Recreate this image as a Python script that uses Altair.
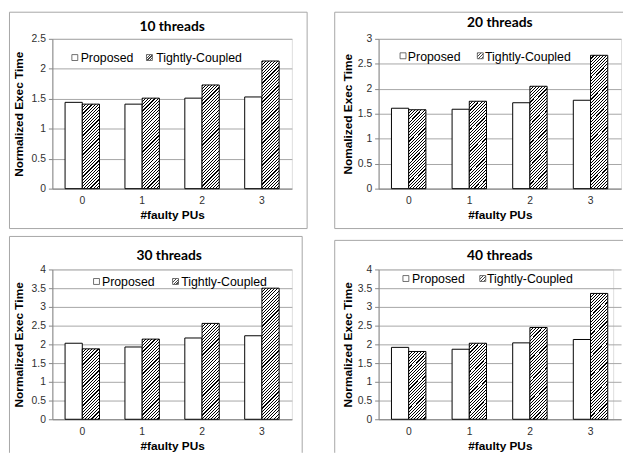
import altair as alt
import pandas as pd

# ---------------- data ----------------
categories = ["0", "1", "2", "3"]
series = ["Proposed", "Tightly-Coupled"]
titles = ["10 threads", "20 threads", "30 threads", "40 threads"]
y_titles = ["Normalized Exec Time", "Nomalized Exec Time",
            "Normalized Exec Time", "Normalized Exec Time"]
x_title = "#faulty PUs"
y_max = [2.5, 3.0, 4.0, 4.0]
y_ticks = [[0, 0.5, 1, 1.5, 2, 2.5],
           [0, 0.5, 1, 1.5, 2, 2.5, 3],
           [0, 0.5, 1, 1.5, 2, 2.5, 3, 3.5, 4],
           [0, 0.5, 1, 1.5, 2, 2.5, 3, 3.5, 4]]
proposed = [[1.44, 1.41, 1.51, 1.53],
            [1.61, 1.59, 1.72, 1.77],
            [2.03, 1.93, 2.17, 2.23],
            [1.92, 1.87, 2.04, 2.13]]
tightly = [[1.41, 1.51, 1.73, 2.13],
           [1.58, 1.75, 2.05, 2.67],
           [1.88, 2.14, 2.56, 3.50],
           [1.81, 2.03, 2.45, 3.36]]

# ---------------- layout / style ----------------
H = 152
plot_w = [243, 246, 243, 238]
band_w = [243, 246, 243, 246]
PAD_IN = 0.425
title_dy = [-11.5, -15.5, -13.5, -13.5]
title_dx = [121.5, 123, 118.5, 123]
ytitle_pad = [6, 3, 6, 3]
# (symbol1 x, y, text1 x, symbol2 x, text2 x) relative to plot area
legend_pos = [(22.8, 19.0, 28.7, 98.5, 105.3),
              (24.8, 17.2, 29.7, 103.2, 108.0),
              (44.8, 12.2, 50.3, 125.0, 130.7),
              (27.7, 9.2, 34.0, 105.7, 110.0)]
# border segments (x, x2, y, y2) relative to plot area
borders = [
    [(-43.5, 258.5, -27, -27), (-43.5, 258.5, 192.5, 192.5),
     (-43.5, -43.5, -27, 192.5), (258.5, 258.5, -27, 192.5)],
    [(-44.5, 248, -27, -27), (-44.5, 248, 192.5, 192.5),
     (-44.5, -44.5, -27, 192.5)],
    [(-43.5, 253.5, -33.5, -33.5), (-43.5, -43.5, -33.5, 186),
     (253.5, 253.5, -33.5, 186)],
    [(-44.5, 248, -29.5, -29.5), (-44.5, -44.5, -29.5, 186)],
]
BORDER_C = "#a6a6a6"
GRID_C = "#a6a6a6"
AXIS_C = "#868686"
LABEL_C = "#303030"
FONT = "Liberation Sans"

N_STRIPES = 60
PERIOD = 3.2
BLACK_F = 0.35


def stops_js(n, f):
    parts = []
    for k in range(n):
        a = k / n
        b = (k + f) / n
        c = (k + 1) / n
        parts.append(f"{{offset:{a:.5f},color:'#000'}}")
        parts.append(f"{{offset:{b:.5f},color:'#000'}}")
        parts.append(f"{{offset:{b:.5f},color:'#fff'}}")
        parts.append(f"{{offset:{c:.5f},color:'#fff'}}")
    return ",".join(parts)


STOPS = stops_js(N_STRIPES, BLACK_F)


def hatch_expr(bw, k):
    h = f"(datum.value*{k:.5f})"
    s = f"({N_STRIPES * PERIOD:.3f}/({bw * bw:.4f}+{h}*{h}))"
    return (f"datum.series==='{series[0]}' ? 'white' : "
            f"{{gradient:'linear',x1:0,y1:0,x2:{s}*{bw:.4f},y2:{s}*{h},stops:[{STOPS}]}}")


legend_grad = alt.Gradient(
    gradient="linear", x1=0, y1=0, x2=1, y2=1,
    stops=sum([[alt.GradientStop(offset=k / 4, color="black"),
                alt.GradientStop(offset=(k + 0.35) / 4, color="black"),
                alt.GradientStop(offset=(k + 0.35) / 4, color="white"),
                alt.GradientStop(offset=(k + 1) / 4, color="white")] for k in range(4)], []),
)

one = pd.DataFrame({"k": [0]})


def panel(i):
    W = plot_w[i]
    BR = band_w[i]
    ym = y_max[i]
    df = pd.DataFrame({
        "cat": categories * 2,
        "series": [series[0]] * 4 + [series[1]] * 4,
        "value": proposed[i] + tightly[i],
    })
    bw = BR / 4 * (1 - PAD_IN) / 2
    k = H / ym
    bars = alt.Chart(df).transform_calculate(
        hfill=hatch_expr(bw, k)
    ).mark_bar(stroke="black", strokeWidth=1).encode(
        x=alt.X("cat:N", sort=categories,
                scale=alt.Scale(paddingInner=PAD_IN, paddingOuter=PAD_IN / 2, range=[0, BR]),
                axis=alt.Axis(title=x_title, labelAngle=0, ticks=False, tickSize=0,
                              labelPadding=7, titlePadding=4, grid=False,
                              domainColor=AXIS_C, labelColor=LABEL_C, labelFont=FONT,
                              labelFontSize=10.5, titleFont=FONT, titleFontSize=12,
                              titleFontWeight="bold", titleColor="black")),
        xOffset=alt.XOffset("series:N", sort=series),
        y=alt.Y("value:Q", scale=alt.Scale(domain=[0, ym], nice=False),
                axis=alt.Axis(title=y_titles[i], values=y_ticks[i], format="~g",
                              tickSize=4, tickColor=AXIS_C, domainColor=AXIS_C,
                              gridColor=GRID_C, labelPadding=3, titlePadding=ytitle_pad[i],
                              labelColor=LABEL_C, labelFont=FONT, labelFontSize=10.5,
                              titleFont=FONT, titleFontSize=12, titleFontWeight="bold",
                              titleColor="black")),
        fill=alt.Fill("hfill:N", scale=None),
    )
    layers = []
    for (x1, x2, y1, y2) in borders[i]:
        r = alt.Chart(one).mark_rule(color=BORDER_C, strokeWidth=1)
        if x1 == x2:
            r = r.encode(x=alt.value(x1), y=alt.value(y1), y2=alt.value(y2))
        else:
            r = r.encode(x=alt.value(x1), x2=alt.value(x2), y=alt.value(y1))
        layers.append(r)
    layers.append(bars)
    s1x, ly, t1x, s2x, t2x = legend_pos[i]
    layers.append(alt.Chart(one).mark_square(size=36, fill="white", stroke="black", strokeWidth=0.8)
                  .encode(x=alt.value(s1x), y=alt.value(ly)))
    layers.append(alt.Chart(one).mark_square(size=36, fill=legend_grad, stroke="black", strokeWidth=0.8)
                  .encode(x=alt.value(s2x), y=alt.value(ly)))
    layers.append(alt.Chart(one).mark_text(text=series[0], align="left", baseline="middle",
                                           font=FONT, fontSize=12.5, color="black")
                  .encode(x=alt.value(t1x), y=alt.value(ly + 1)))
    layers.append(alt.Chart(one).mark_text(text=series[1], align="left", baseline="middle",
                                           font=FONT, fontSize=12.5, color="black")
                  .encode(x=alt.value(t2x), y=alt.value(ly + 1)))
    layers.append(alt.Chart(one).mark_text(text=titles[i], align="center", baseline="middle",
                                           font="Lato", fontWeight="bold", fontSize=14,
                                           color="black")
                  .encode(x=alt.value(title_dx[i]), y=alt.value(title_dy[i])))
    return alt.layer(*layers).properties(width=W, height=H)


chart = alt.concat(
    *[panel(i) for i in range(4)],
    columns=2,
    spacing={"row": 82, "column": 88},
    bounds="flush",
    align="each",
    padding=0,
).configure_view(strokeWidth=0).configure(background="white")

chart.save("out.html", embed_options={"renderer": "svg", "actions": False})
